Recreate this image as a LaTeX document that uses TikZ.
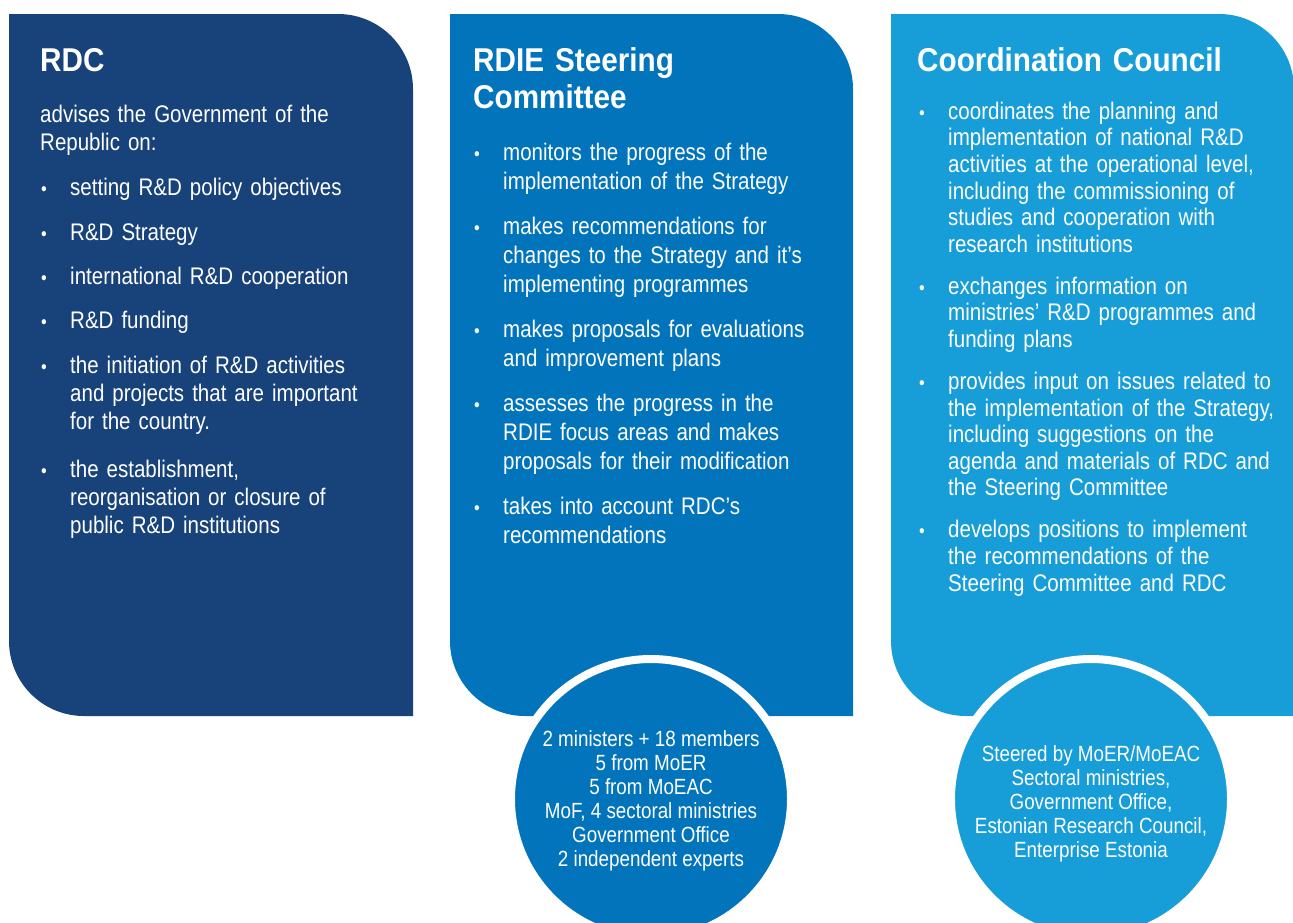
\documentclass[tikz,border=0pt]{standalone}
\usepackage{fontspec}
\setmainfont{Liberation Sans}[FakeStretch=0.855]
\newfontfamily\headfont{Liberation Sans}[FakeStretch=0.9]
\usetikzlibrary{positioning}

\definecolor{rdcnavy}{HTML}{17427A}
\definecolor{scblue}{HTML}{0174BC}
\definecolor{ccblue}{HTML}{179DD8}

% bullet, the following lines indented under the text
\newcommand{\bul}{\leftskip=27pt\strut\hspace*{-27pt}\makebox[27pt][l]{\hspace*{-2pt}\fontsize{19}{19}\selectfont\textbullet}}

\begin{document}
\begin{tikzpicture}[
        x=1pt, y=-1pt,
        % styles of the blocks
        title/.style={anchor=north west, inner sep=0pt, text=white, text width=340pt, align=left, font=\headfont\bfseries\fontsize{33}{37}\selectfont},
        item/.style={inner sep=0pt, text=white, text width=360pt, align=left},
        rdcbody/.style={font=\fontsize{24}{28}\selectfont},
        scbody/.style={font=\fontsize{24}{29}\selectfont},
        ccbody/.style={font=\fontsize{24}{26.6}\selectfont},
        ring/.style={circle, draw=white, line width=8pt, minimum size=280pt, inner sep=0pt},
        memberlist/.style={inner sep=0pt, text=white, align=center, font=\fontsize{22}{24}\selectfont}
    ]
    \useasboundingbox (0,0) rectangle (1293,922);

    % --- panels ---
    \fill[rdcnavy] (9,14) -- (338,14) arc[start angle=-90, end angle=0, radius=75] -- (413,716) -- (84,716) arc[start angle=90, end angle=180, radius=75] -- cycle;
    \fill[scblue] (450,14) -- (778,14) arc[start angle=-90, end angle=0, radius=75] -- (853,716) -- (525,716) arc[start angle=90, end angle=180, radius=75] -- cycle;
    \fill[ccblue] (891,14) -- (1219,14) arc[start angle=-90, end angle=0, radius=75] -- (1294,716) -- (966,716) arc[start angle=90, end angle=180, radius=75] -- cycle;

    % --- RDC ---
    \node[title] (rdc) at (40,45) {\strut RDC};
    \node[item, rdcbody, below right=20pt and 0pt of rdc.south west] (rdcintro) {\strut advises the Government of the\\Republic on:\strut};
    \node[item, rdcbody, below right=17pt and 3pt of rdcintro.south west] (rdcpolicy) {\bul setting R\&D policy objectives\strut\par};
    \node[item, rdcbody, below right=16pt and 0pt of rdcpolicy.south west] (rdcstrategy) {\bul R\&D Strategy\strut\par};
    \node[item, rdcbody, below right=16pt and 0pt of rdcstrategy.south west] (rdccoop) {\bul international R\&D cooperation\strut\par};
    \node[item, rdcbody, below right=16pt and 0pt of rdccoop.south west] (rdcfunding) {\bul R\&D funding\strut\par};
    \node[item, rdcbody, below right=16pt and 0pt of rdcfunding.south west] (rdcinit) {\bul the initiation of R\&D activities\\and projects that are important\\for the country.\strut\par};
    \node[item, rdcbody, below right=19.5pt and 0pt of rdcinit.south west] (rdcinst) {\bul the establishment,\\reorganisation or closure of\\public R\&D institutions\strut\par};

    % --- RDIE Steering Committee ---
    \node[title] (sctitle) at (473,45) {\strut RDIE Steering\\Committee\strut};
    \node[item, scbody, below right=21pt and 3pt of sctitle.south west] (scmonitor) {\bul monitors the progress of the\\implementation of the Strategy\strut\par};
    \node[item, scbody, below right=15.5pt and 0pt of scmonitor.south west] (screcom) {\bul makes recommendations for\\changes to the Strategy and it’s\\implementing programmes\strut\par};
    \node[item, scbody, below right=15.5pt and 0pt of screcom.south west] (scpropose) {\bul makes proposals for evaluations\\and improvement plans\strut\par};
    \node[item, scbody, below right=15.5pt and 0pt of scpropose.south west] (scassess) {\bul assesses the progress in the\\RDIE focus areas and makes\\proposals for their modification\strut\par};
    \node[item, scbody, below right=15.5pt and 0pt of scassess.south west] (scaccount) {\bul takes into account RDC’s\\recommendations\strut\par};

    % --- Coordination Council ---
    \node[title] (cctitle) at (917,45) {\strut Coordination Council\strut};
    \node[item, ccbody, below right=18pt and 4pt of cctitle.south west] (cccoord) {\bul coordinates the planning and\\implementation of national R\&D\\activities at the operational level,\\including the commissioning of\\studies and cooperation with\\research institutions\strut\par};
    \node[item, ccbody, below right=15pt and 0pt of cccoord.south west] (ccexchange) {\bul exchanges information on\\ministries’ R\&D programmes and\\funding plans\strut\par};
    \node[item, ccbody, below right=15pt and 0pt of ccexchange.south west] (ccinput) {\bul provides input on issues related to\\the implementation of the Strategy,\\including suggestions on the\\agenda and materials of RDC and\\the Steering Committee\strut\par};
    \node[item, ccbody, below right=15pt and 0pt of ccinput.south west] (ccdevelop) {\bul develops positions to implement\\the recommendations of the\\Steering Committee and RDC\strut\par};

    % --- membership circles ---
    \node[ring, fill=scblue] (scring) at (651,799) {};
    \node[ring, fill=ccblue] (ccring) at (1091,799) {};
    \node[memberlist] (scmembers) at ([yshift=-2pt]scring.center) {2 ministers + 18 members\\5 from MoER\\5 from MoEAC\\MoF, 4 sectoral ministries\\Government Office\\2 independent experts};
    \node[memberlist] (ccmembers) at ([yshift=-5pt]ccring.center) {Steered by MoER/MoEAC\\Sectoral ministries,\\Government Office,\\Estonian Research Council,\\Enterprise Estonia};

\end{tikzpicture}
\end{document}
